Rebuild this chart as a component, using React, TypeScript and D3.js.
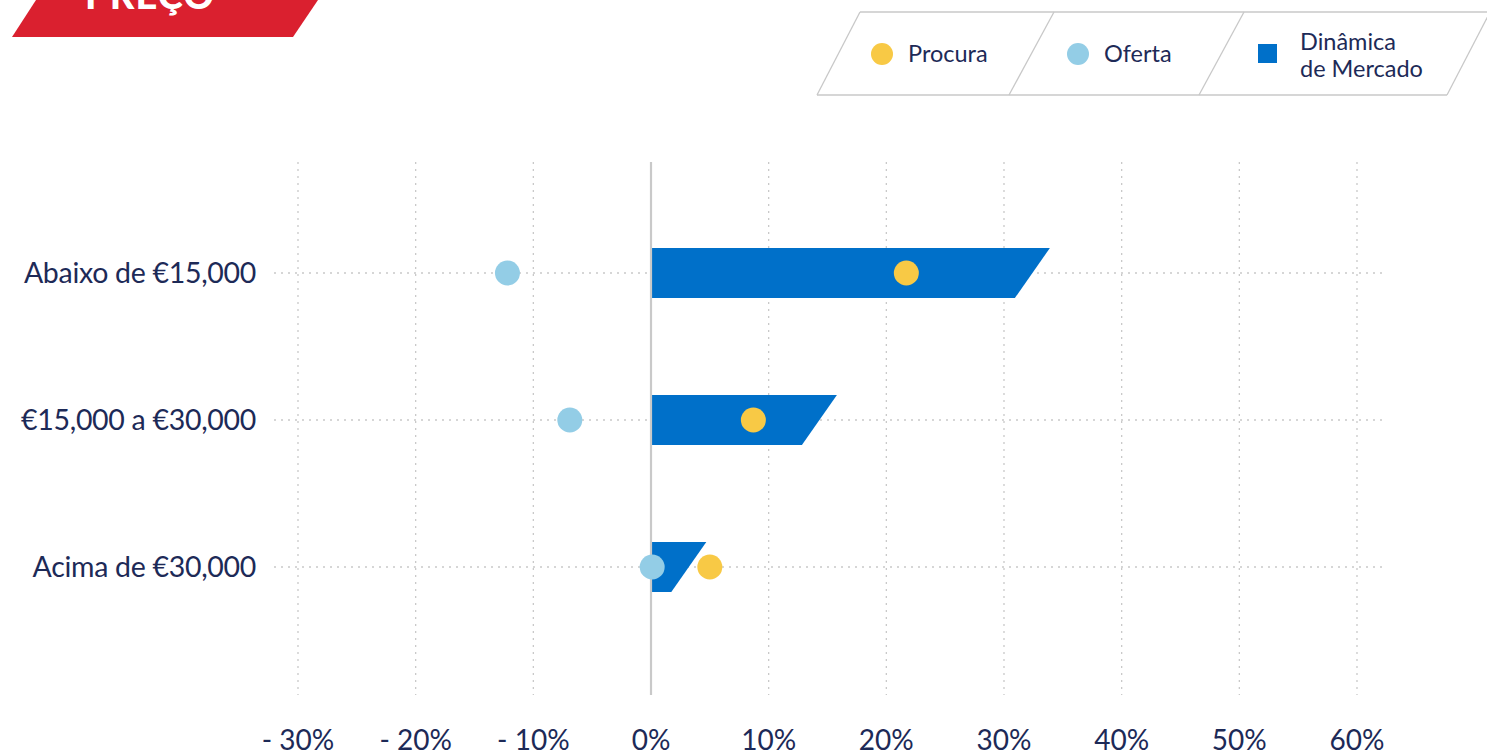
import React from "react";
import * as d3 from "d3";

const categories = ["Abaixo de €15,000", "€15,000 a €30,000", "Acima de €30,000"];
const dinamica = [33.9, 15.8, 4.7];
const procura = [21.7, 8.7, 5.0];
const oferta = [-12.2, -6.9, 0.1];
const ticks = [-30, -20, -10, 0, 10, 20, 30, 40, 50, 60];
const legendItems = ["Procura", "Oferta", "Dinâmica de Mercado"];
const title = "PREÇO";

const W = 1487;
const H = 753;
const NAVY = "#1D2A57";
const BLUE = "#0070C9";
const YELLOW = "#F8C945";
const LIGHT = "#93CDE6";
const RED = "#DA202F";
const GRID = "#C9C9C9";
const FONT = "Lato, 'Open Sans', sans-serif";

export default function App() {
  const x = d3.scaleLinear().domain([-30, 60]).range([298, 1357]);
  const y = d3.scalePoint<string>().domain(categories).range([199.5, 640.5]).padding(0.5);
  const barH = 50;
  const slant = 35;
  const gridTop = 162;
  const gridBottom = 695;

  const fmt = (t: number) => (t < 0 ? `- ${Math.abs(t)}%` : `${t}%`);

  return (
    <svg
      width={W}
      height={H}
      style={{ position: "absolute", left: 0, top: 0, background: "#fff" }}
      fontFamily={FONT}
    >
      {/* Title banner */}
      <polygon points="36,0 318,0 293,37 12,37" fill={RED} />
      <text x={150} y={9} textAnchor="middle" fill="#fff" fontSize={38} fontWeight={900} letterSpacing={1}>
        {title}
      </text>

      {/* Legend */}
      <g stroke="#C8C8C8" strokeWidth={1.3} fill="none">
        <line x1={860} y1={12} x2={1490} y2={12} />
        <line x1={817} y1={95} x2={1447} y2={95} />
        <line x1={860} y1={12} x2={817} y2={95} />
        <line x1={1054} y1={12} x2={1009} y2={95} />
        <line x1={1244} y1={12} x2={1199} y2={95} />
        <line x1={1490} y1={12} x2={1447} y2={95} />
      </g>
      <circle cx={882} cy={54} r={11} fill={YELLOW} />
      <text x={908} y={62} fontSize={23.5} fill={NAVY}>{legendItems[0]}</text>
      <circle cx={1078} cy={54} r={11} fill={LIGHT} />
      <text x={1104} y={62} fontSize={23.5} fill={NAVY}>{legendItems[1]}</text>
      <rect x={1258} y={44} width={19} height={19} fill={BLUE} />
      <text x={1300} y={50} fontSize={23.5} fill={NAVY}>{legendItems[2].split(" ")[0]}</text>
      <text x={1300} y={77} fontSize={23.5} fill={NAVY}>{legendItems[2].split(" ").slice(1).join(" ")}</text>

      {/* Vertical grid */}
      {ticks.filter((t) => t !== 0).map((t) => (
        <line key={t} x1={x(t)} x2={x(t)} y1={gridTop} y2={gridBottom} stroke={GRID} strokeWidth={1.3} strokeDasharray="2,5" />
      ))}
      {/* Horizontal grid */}
      {categories.map((c) => (
        <line key={c} x1={274} x2={1387} y1={y(c)} y2={y(c)} stroke={GRID} strokeWidth={1.3} strokeDasharray="2,5" />
      ))}

      {/* Bars */}
      {categories.map((c, i) => {
        const cy = y(c)!;
        const x0 = x(0);
        const x1 = x(dinamica[i]);
        const top = cy - barH / 2;
        const bot = cy + barH / 2;
        const pts = [
          [x0, top],
          [x1, top],
          [Math.max(x0, x1 - slant), bot],
          [x0, bot],
        ];
        return <polygon key={c} points={pts.map((p) => p.join(",")).join(" ")} fill={BLUE} />;
      })}

      {/* Zero line */}
      <line x1={x(0)} x2={x(0)} y1={gridTop} y2={gridBottom} stroke={GRID} strokeWidth={2.2} />

      {/* Dots */}
      {categories.map((c, i) => (
        <g key={c}>
          <circle cx={x(oferta[i])} cy={y(c)} r={12.5} fill={LIGHT} />
          <circle cx={x(procura[i])} cy={y(c)} r={12.5} fill={YELLOW} />
        </g>
      ))}

      {/* Category labels */}
      {categories.map((c) => (
        <text key={c} x={256} y={y(c)! + 10} textAnchor="end" fontSize={28.5} fill={NAVY} letterSpacing={-0.3}>
          {c}
        </text>
      ))}

      {/* Tick labels */}
      {ticks.map((t) => (
        <text key={t} x={x(t)} y={750} textAnchor="middle" fontSize={28} fill={NAVY}>
          {fmt(t)}
        </text>
      ))}
    </svg>
  );
}
